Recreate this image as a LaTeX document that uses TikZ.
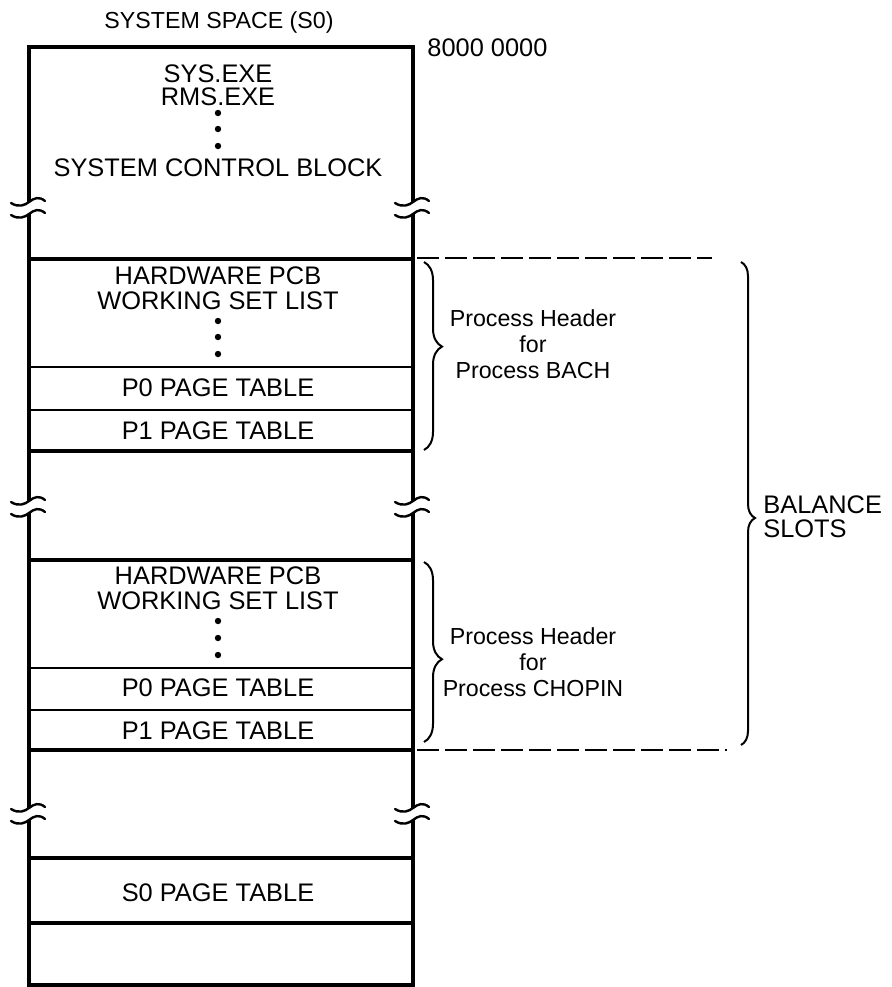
\documentclass[tikz,border=0pt]{standalone}
\usepackage{fontspec}
\setmainfont{Liberation Sans}
\usepackage{tikz}
\usetikzlibrary{decorations.pathreplacing}

% break mark across a wall: x of the wall, middle of the gap
\newcommand{\brkmark}[2]{%
  \fill[white] (#1-5,#2-6) rectangle (#1+5,#2+6);
  \draw[tilde] (#1-18,#2-5) .. controls (#1-10,#2) and (#1-4,#2-3) .. (#1,#2-6)
                 .. controls (#1+5,#2-10) and (#1+10,#2-12) .. (#1+16,#2-7);
  \draw[tilde] (#1-18,#2+7) .. controls (#1-10,#2+12) and (#1-4,#2+9) .. (#1,#2+6)
                 .. controls (#1+5,#2+2) and (#1+10,#2) .. (#1+16,#2+5);
}

\begin{document}
\begin{tikzpicture}[
    x=0.5pt, y=-0.5pt,
    every node/.style={font=\fontsize{12.7}{14}\selectfont, inner sep=0pt},
    hdr/.style={align=center, font=\fontsize{11.6}{13}\selectfont},
    dot/.style={circle, fill, inner sep=0pt, minimum size=3.2pt},
    wall/.style={line width=1.8pt},
    rule/.style={line width=0.8pt},
    tilde/.style={line width=1.2pt, line cap=round},
    slot/.style={line width=1pt, dash pattern=on 11pt off 3pt},
    brc/.style={decorate, decoration={brace, amplitude=#1}, line width=1pt},
    brc/.default=9pt,
]
    \useasboundingbox (0,0) rectangle (891,987);

    % the S0 column
    \draw[wall] (29,47) rectangle (413,985);
    \draw[wall] (29,259) -- (413,259);
    \draw[rule] (29,367) -- (413,367);
    \draw[rule] (29,410) -- (413,410);
    \draw[wall] (29,451) -- (413,451);
    \draw[wall] (29,560) -- (413,560);
    \draw[rule] (29,668) -- (413,668);
    \draw[rule] (29,710) -- (413,710);
    \draw[wall] (29,750) -- (413,750);
    \draw[wall] (29,858) -- (413,858);
    \draw[wall] (29,923) -- (413,923);

    \brkmark{29}{208}  \brkmark{413}{208}
    \brkmark{29}{507}  \brkmark{413}{507}
    \brkmark{29}{814}  \brkmark{413}{814}

    \node[font=\fontsize{11.6}{13}\selectfont] (title) at (219,22) {SYSTEM SPACE (S0)};
    \node[anchor=west] (addr) at (427,48) {8000 0000};

    \node (sys) at (218,74)  {SYS.EXE};
    \node (rms) at (218,97)  {RMS.EXE};
    \node[dot] (sd1) at (218,113) {};
    \node[dot] (sd2) at (218,129) {};
    \node[dot] (sd3) at (218,146) {};
    \node (scb) at (218,168) {SYSTEM CONTROL BLOCK};

    % header of process BACH
    \node (hwa)  at (218,276) {HARDWARE PCB};
    \node (wsla) at (218,301) {WORKING SET LIST};
    \node[dot] (ad1) at (218,321) {};
    \node[dot] (ad2) at (218,337) {};
    \node[dot] (ad3) at (218,354) {};
    \node (p0a) at (218,388) {P0 PAGE TABLE};
    \node (p1a) at (218,431) {P1 PAGE TABLE};

    % header of process CHOPIN
    \node (hwb)  at (218,576) {HARDWARE PCB};
    \node (wslb) at (218,601) {WORKING SET LIST};
    \node[dot] (bd1) at (218,621) {};
    \node[dot] (bd2) at (218,638) {};
    \node[dot] (bd3) at (218,655) {};
    \node (p0b) at (218,688) {P0 PAGE TABLE};
    \node (p1b) at (218,731) {P1 PAGE TABLE};

    \node (s0pt) at (218,893) {S0 PAGE TABLE};

    % balance slots
    \coordinate (slottop) at (417,258);
    \coordinate (slotbot) at (417,750);
    \draw[slot] (slottop) -- (712,258);
    \draw[slot] (slotbot) -- (727,750);

    \draw[brc, decoration={aspect=0.45}] (424,262) -- (424,450);
    \node[hdr] (pha) at (533,344) {Process Header\\for\\Process BACH};

    \draw[brc, decoration={aspect=0.54}] (424,562) -- (424,742);
    \node[hdr] (phb) at (533,662) {Process Header\\for\\Process CHOPIN};

    \draw[brc=7pt, decoration={aspect=0.53}] (741,262) -- (741,745);
    \node[anchor=west, align=left, font=\fontsize{12.7}{12}\selectfont] (bal) at (763,517) {BALANCE\\SLOTS};
\end{tikzpicture}
\end{document}
